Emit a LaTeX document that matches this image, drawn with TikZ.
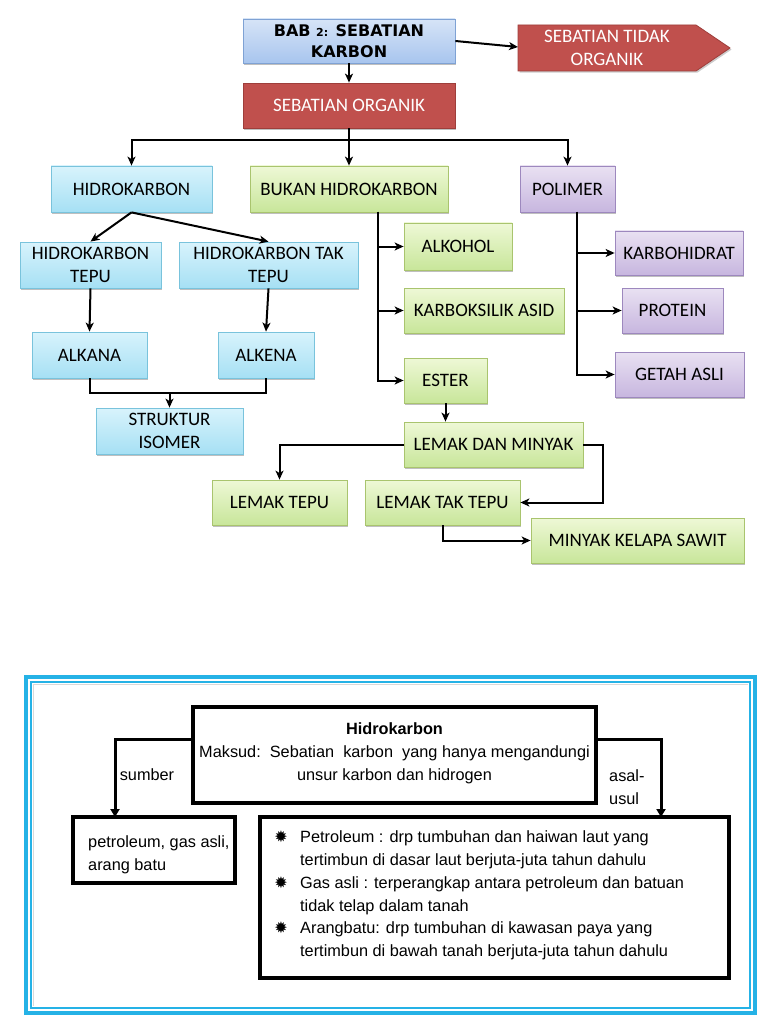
\documentclass[tikz,border=0pt]{standalone}
\usepackage{fontspec}
\setmainfont{Carlito}
\newfontfamily\dejab{DejaVu Sans}
\newfontfamily\arialf{Liberation Sans}
\usetikzlibrary{arrows.meta,shadows,calc}
\definecolor{bluetop}{HTML}{D8F3FC}
\definecolor{bluebot}{HTML}{A6E0F4}
\definecolor{blueborder}{HTML}{79C3DC}
\definecolor{greentop}{HTML}{EEF8D6}
\definecolor{greenbot}{HTML}{C8E69A}
\definecolor{greenborder}{HTML}{A9C46E}
\definecolor{purptop}{HTML}{E9E1F2}
\definecolor{purpbot}{HTML}{C7B6DF}
\definecolor{purpborder}{HTML}{9D88BE}
\definecolor{redfill}{HTML}{C0504D}
\definecolor{redborder}{HTML}{9E3E3B}
\definecolor{babtop}{HTML}{D6E4F7}
\definecolor{babbot}{HTML}{A8C5EE}
\definecolor{babborder}{HTML}{7FA2D4}
\definecolor{framecyan}{HTML}{25B2E6}
\begin{document}
\begin{tikzpicture}[x=1pt,y=-1pt,
  box/.style={rectangle, inner sep=0pt, align=center,
    font=\fontsize{19}{23}\selectfont, line width=0.8pt,
    drop shadow={shadow xshift=1.2pt, shadow yshift=-1.6pt, opacity=0.25, fill=black}},
  bluebox/.style={box, draw=blueborder, top color=bluetop, bottom color=bluebot},
  greenbox/.style={box, draw=greenborder, top color=greentop, bottom color=greenbot},
  purpbox/.style={box, draw=purpborder, top color=purptop, bottom color=purpbot},
  redbox/.style={box, draw=redborder, fill=redfill, text=white},
  babbox/.style={box, draw=babborder, top color=babtop, bottom color=babbot},
  arr/.style={line width=2pt, -{Stealth[length=9pt,width=8pt,inset=2.5pt]}},
  ln/.style={line width=2pt},
  barr/.style={line width=3pt, -{Triangle[length=8pt,width=9pt]}},
  btxt/.style={inner sep=0pt, font=\arialf\fontsize{16.3}{22.8}\selectfont},
  bbox/.style={draw=black, line width=4pt, inner sep=0pt},
  bull/.style={inner sep=0pt, font=\dejab\fontsize{16}{16}\selectfont}
]
\useasboundingbox (0,0) rectangle (768,1024);
\fill[white] (0,0) rectangle (768,1024);

% ---------- top diagram ----------
\node[babbox, minimum width=212pt, minimum height=44pt,
  font=\dejab\bfseries\fontsize{16}{21}\selectfont] (bab) at (349,41)
  {BAB {\fontsize{11}{21}\selectfont 2:} SEBATIAN\\KARBON};

\fill[black, opacity=0.2] (519.5,26.6) -- (697.5,26.6) -- (731.5,49.6) -- (697.5,72.6) -- (519.5,72.6) -- cycle;
\filldraw[fill=redfill, draw=redborder, line width=0.8pt]
  (518,25) -- (696,25) -- (730,48) -- (696,71) -- (518,71) -- cycle;
\node[inner sep=0pt, align=center, text=white, font=\fontsize{19}{23}\selectfont,
  minimum width=178pt, minimum height=46pt] (tidak) at (607,48) {SEBATIAN TIDAK\\ORGANIK};

\node[redbox, minimum width=212pt, minimum height=45pt] (org) at (349,105.5) {SEBATIAN ORGANIK};

\node[bluebox, minimum width=161pt, minimum height=46pt] (hk) at (131.5,189) {HIDROKARBON};
\node[greenbox, minimum width=198pt, minimum height=46pt] (bk) at (349,189) {BUKAN HIDROKARBON};
\node[purpbox, minimum width=95pt, minimum height=46pt] (pol) at (567.5,189) {POLIMER};

\node[bluebox, minimum width=141pt, minimum height=46pt] (tepu) at (90.5,265) {HIDROKARBON\\TEPU};
\node[bluebox, minimum width=179pt, minimum height=46pt] (takt) at (268.5,265) {HIDROKARBON TAK\\TEPU};
\node[bluebox, minimum width=115pt, minimum height=46pt] (alkana) at (89.5,355) {ALKANA};
\node[bluebox, minimum width=96pt, minimum height=46pt] (alkena) at (266,355) {ALKENA};
\node[bluebox, minimum width=147pt, minimum height=46pt] (struk) at (169.5,431) {STRUKTUR\\ISOMER};

\node[greenbox, minimum width=108pt, minimum height=47pt] (alk) at (458,246.5) {ALKOHOL};
\node[greenbox, minimum width=160pt, minimum height=45pt] (kas) at (484,310.5) {KARBOKSILIK ASID};
\node[greenbox, minimum width=83pt, minimum height=45pt] (est) at (445.5,380.5) {ESTER};

\node[purpbox, minimum width=128pt, minimum height=44pt] (karbo) at (679,253) {KARBOHIDRAT};
\node[purpbox, minimum width=101pt, minimum height=45pt] (prot) at (672.5,310.5) {PROTEIN};
\node[purpbox, minimum width=129pt, minimum height=45pt] (getah) at (679.5,374.5) {GETAH ASLI};

\node[greenbox, minimum width=179pt, minimum height=45pt] (ldm) at (493.5,444.5) {LEMAK DAN MINYAK};
\node[greenbox, minimum width=135pt, minimum height=45pt] (ltepu) at (279.5,502.5) {LEMAK TEPU};
\node[greenbox, minimum width=155pt, minimum height=45pt] (ltt) at (442.5,502.5) {LEMAK TAK TEPU};
\node[greenbox, minimum width=213pt, minimum height=45pt] (mks) at (637.5,540.5) {MINYAK KELAPA SAWIT};

\coordinate (tidakw) at (518,47);
\draw[arr] (bab.east) -- (tidakw);
\draw[arr] (bab.south) -- (org.north);
\draw[arr] (org.south) -- (bk.north);
\draw[arr] (org.south) -- ++(0,12) -| (hk.north);
\draw[arr] (org.south) -- ++(0,12) -| (pol.north);

\draw[arr] (hk.south) -- (tepu.north);
\draw[arr] (hk.south) -- (takt.north);
\draw[arr] (tepu.south) -- (alkana.north);
\draw[arr] (takt.south) -- (alkena.north);
\coordinate (j1) at (169.5,393);
\draw[ln] (alkana.south) |- (j1) -| (alkena.south);
\draw[arr] (j1) -- (struk.north);

\coordinate (bkv) at (378,212);
\draw[arr] (bkv) |- (alk.west);
\draw[arr] (bkv) |- (kas.west);
\draw[arr] (bkv) |- (est.west);

\coordinate (polv) at (577,212);
\draw[arr] (polv) |- (karbo.west);
\draw[arr] (polv) |- (prot.west);
\draw[arr] (polv) |- (getah.west);

\draw[arr] (est.south) -- (est.south |- ldm.north);
\draw[arr] (ldm.west) -| (ltepu.north);
\draw[arr] (ldm.east) -- ++(20,0) |- (ltt.east);
\draw[arr] (ltt.south) |- (mks.west);

% ---------- bottom panel ----------
\draw[framecyan, line width=4pt] (26,677) rectangle (755,1013);
\draw[framecyan, line width=1.6pt] (31,682) rectangle (750,1008);
\draw[black!15, line width=1pt] (33,684.5) -- (748,684.5);
\draw[black!15, line width=1pt] (33.5,684) -- (33.5,1006);

\node[bbox, minimum width=403pt, minimum height=96pt] (hid) at (394.5,755) {};
\node[btxt, align=center] (hidt) at (394.5,753)
  {\bfseries Hidrokarbon\\Maksud:\ \ Sebatian\ \ karbon\ \ yang hanya mengandungi\\unsur karbon dan hidrogen};

\node[bbox, minimum width=162pt, minimum height=66pt] (pet) at (154,850) {};
\node[btxt, anchor=west, align=left] (pett) at (88,855) {petroleum, gas asli,\\arang batu};

\node[bbox, minimum width=469pt, minimum height=161pt] (asal) at (494.5,897.5) {};
\node[btxt, anchor=west, align=left] (t1) at (300,850) {Petroleum : drp tumbuhan dan haiwan laut yang\\tertimbun di dasar laut berjuta-juta tahun dahulu};
\node[btxt, anchor=west, align=left] (t2) at (300,896) {Gas asli : terperangkap antara petroleum dan batuan\\tidak telap dalam tanah};
\node[btxt, anchor=west, align=left] (t3) at (300,941) {Arangbatu: drp tumbuhan di kawasan paya yang\\tertimbun di bawah tanah berjuta-juta tahun dahulu};
\node[bull] (b1) at (281,837) {✹};
\node[bull] (b2) at (281,883) {✹};
\node[bull] (b3) at (281,928) {✹};

\coordinate (hl) at (193,739);
\coordinate (pl) at (115,817);
\coordinate (hr) at (596,739);
\coordinate (ar) at (661,817);
\draw[barr] (hl) -| (pl);
\draw[barr] (hr) -| (ar);
\node[btxt] (sumber) at (147,775) {sumber};
\node[btxt, anchor=west, align=left] (asalt) at (609,787) {asal-\\usul};
\end{tikzpicture}
\end{document}
